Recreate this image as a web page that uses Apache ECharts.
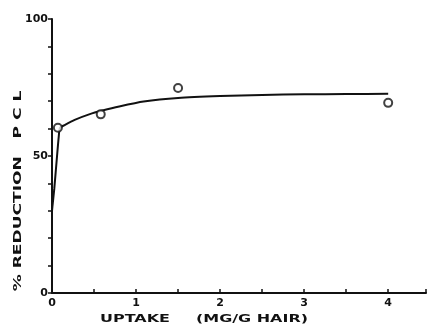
<!DOCTYPE html>
<html>
<head>
<meta charset="utf-8">
<script src="https://cdn.jsdelivr.net/npm/echarts@6/dist/echarts.min.js"></script>
<style>
  html, body { margin: 0; padding: 0; background: #ffffff; }
  #chart { width: 429px; height: 326px; }
</style>
</head>
<body>
<div id="chart"></div>
<script>
// Measured reduction of PCL against uptake
const uptakeObs = [0.07, 0.58, 1.5, 4.0];
const reductionObs = [60.3, 65.2, 74.8, 69.4];

// Fitted saturation curve, traced point by point
const curveUptake = [0, 0.01, 0.027, 0.06, 0.08, 0.095, 0.15, 0.27, 0.45, 0.6, 0.8, 1.09, 1.5, 2.0, 2.5, 3.0, 3.5, 4.0];
const curveReduction = [30, 33, 38, 50, 57, 60.3, 61.3, 63.2, 65.3, 66.6, 68.1, 69.9, 71.2, 71.9, 72.3, 72.5, 72.6, 72.7];

// Axis ticks that carry labels
const yLabelTicks = [0, 50, 100];
const xLabelTicks = [0, 1, 2, 3, 4];

// Axis titles
const xTitleParts = ['UPTAKE', '(MG/G HAIR)'];
const yTitle = '% REDUCTION   P C L';

const ink = '#111111';
const font = 'DejaVu Sans';
const titleFont = 'bold 11px "DejaVu Sans"';

const chart = echarts.init(document.getElementById('chart'), null, { renderer: 'canvas' });

chart.setOption({
  backgroundColor: '#ffffff',
  animation: false,
  grid: { left: 52, top: 19, width: 378, height: 274 },
  xAxis: {
    type: 'value',
    min: 0,
    max: 4.45,
    interval: 0.5,
    axisLine: { show: true, lineStyle: { color: ink, width: 2 } },
    axisTick: { show: true, inside: true, length: 4, lineStyle: { color: ink, width: 1.5 } },
    axisLabel: {
      color: ink, fontFamily: font, fontWeight: 'bold', fontSize: 11, margin: 5,
      formatter: v => (xLabelTicks.includes(v) ? String(v) : '')
    },
    splitLine: { show: false }
  },
  yAxis: {
    type: 'value',
    min: 0,
    max: 100,
    interval: 10,
    axisLine: { show: true, lineStyle: { color: ink, width: 2 } },
    axisTick: { show: true, inside: false, length: 4, lineStyle: { color: ink, width: 1.5 } },
    axisLabel: {
      color: ink, fontFamily: font, fontWeight: 'bold', fontSize: 11, margin: 4,
      formatter: v => (yLabelTicks.includes(v) ? String(v) : '')
    },
    splitLine: { show: false }
  },
  // Wide, stretched lettering for the axis titles
  graphic: [
    {
      type: 'text',
      x: 135, y: 319,
      scaleX: 1.45,
      style: { text: xTitleParts[0], fill: ink, font: titleFont, textAlign: 'center', textVerticalAlign: 'middle' }
    },
    {
      type: 'text',
      x: 252, y: 319,
      scaleX: 1.45,
      style: { text: xTitleParts[1], fill: ink, font: titleFont, textAlign: 'center', textVerticalAlign: 'middle' }
    },
    {
      type: 'text',
      x: 18, y: 191,
      rotation: Math.PI / 2,
      scaleX: 1.55,
      style: { text: yTitle, fill: ink, font: titleFont, textAlign: 'center', textVerticalAlign: 'middle' }
    }
  ],
  series: [
    {
      type: 'line',
      data: curveUptake.map((x, i) => [x, curveReduction[i]]),
      smooth: 0.2,
      showSymbol: false,
      lineStyle: { color: ink, width: 2 },
      z: 2
    },
    {
      type: 'scatter',
      data: uptakeObs.map((x, i) => [x, reductionObs[i]]),
      symbol: 'circle',
      symbolSize: 8,
      itemStyle: { color: '#ffffff', borderColor: ink, borderWidth: 2 },
      z: 3
    }
  ]
});
</script>
</body>
</html>
